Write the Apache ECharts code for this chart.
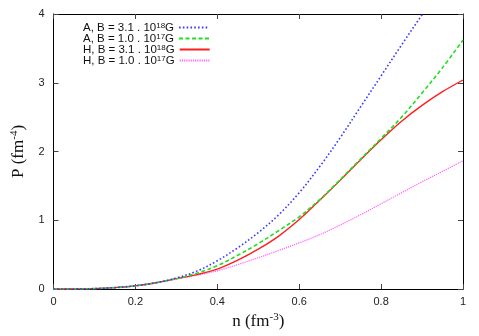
<!DOCTYPE html>
<html>
<head>
<meta charset="utf-8">
<script src="https://cdn.jsdelivr.net/npm/echarts@6/dist/echarts.min.js"></script>
<style>html,body{margin:0;padding:0;background:#fff}#c{width:479px;height:336px}</style>
</head>
<body>
<div id="c"></div>
<script>
var nValues = [0, 0.05, 0.1, 0.15, 0.2, 0.25, 0.3, 0.35, 0.4, 0.45, 0.5, 0.55, 0.6, 0.65, 0.7, 0.75, 0.8, 0.85, 0.9, 0.95, 1.0];
var pA_B18 = [0, 0.001, 0.006, 0.02, 0.048, 0.09, 0.16, 0.26, 0.41, 0.60, 0.82, 1.08, 1.40, 1.78, 2.20, 2.65, 3.10, 3.55, 3.99, 4.43, 4.87];
var pA_B17 = [0, 0.001, 0.006, 0.02, 0.046, 0.09, 0.15, 0.23, 0.34, 0.49, 0.66, 0.85, 1.05, 1.30, 1.59, 1.89, 2.19, 2.50, 2.85, 3.22, 3.62];
var pH_B18 = [0, 0.001, 0.006, 0.02, 0.046, 0.09, 0.15, 0.21, 0.29, 0.42, 0.58, 0.77, 1.01, 1.29, 1.58, 1.88, 2.17, 2.44, 2.67, 2.87, 3.04];
var pH_B17 = [0, 0.001, 0.006, 0.02, 0.046, 0.09, 0.145, 0.20, 0.265, 0.355, 0.455, 0.56, 0.67, 0.79, 0.93, 1.08, 1.24, 1.40, 1.56, 1.71, 1.865];
var seriesNames = ['A, B = 3.1 . 10{s|18}G', 'A, B = 1.0 . 10{s|17}G', 'H, B = 3.1 . 10{s|18}G', 'H, B = 1.0 . 10{s|17}G'];
var xTicks = [0, 0.2, 0.4, 0.6, 0.8, 1];
var yTicks = [0, 1, 2, 3, 4];

function pairs(ys) { return nValues.map(function (x, i) { return [x, ys[i]]; }); }

var styles = [
  { color: '#3a3aff', width: 1.6, type: [1.6, 2.2] },
  { color: '#22dd22', width: 1.6, type: [4, 2.5] },
  { color: '#ff1e1e', width: 1.4, type: 'solid' },
  { color: '#ff66ff', width: 1.3, type: [1.2, 1] }
];
var allData = [pA_B18, pA_B17, pH_B18, pH_B17];

var series = allData.map(function (d, i) {
  return {
    name: seriesNames[i],
    type: 'line',
    data: pairs(d),
    smooth: 0.35,
    symbol: 'none',
    clip: true,
    color: styles[i].color,
    lineStyle: { color: styles[i].color, width: styles[i].width, type: styles[i].type },
    z: 10 - i
  };
});

var legendTops = [21.5, 32.5, 43.5, 54.5];
var legends = seriesNames.map(function (nm, i) {
  return {
    show: true,
    orient: 'vertical',
    left: 83,
    top: legendTops[i],
    padding: 0,
    align: 'right',
    itemWidth: 30,
    itemHeight: 8,
    data: [nm],
    itemStyle: { opacity: 0 },
    lineStyle: { opacity: 1 },
    textStyle: {
      fontFamily: 'Liberation Sans, Arial, sans-serif', fontSize: 11.5, color: '#111', lineHeight: 11,
      rich: { s: { fontSize: 8, lineHeight: 7, verticalAlign: 'top', fontFamily: 'Liberation Sans, Arial, sans-serif', color: '#111' } }
    }
  };
});

var tickFont = { fontFamily: 'Liberation Sans, Arial, sans-serif', fontSize: 11, color: '#222' };
var titleRich = {
  a: { fontFamily: 'Liberation Serif, Times New Roman, serif', fontSize: 17, color: '#111', lineHeight: 20 },
  s: { fontFamily: 'Liberation Serif, Times New Roman, serif', fontSize: 11, color: '#111', lineHeight: 12, verticalAlign: 'top' }
};
var axisCommon = {
  axisLine: { show: true, onZero: false, lineStyle: { color: '#000', width: 1 } },
  axisTick: { show: true, inside: true, length: 5, lineStyle: { color: '#444' } },
  splitLine: { show: false }
};

var chart = echarts.init(document.getElementById('c'), null, { renderer: 'canvas' });
chart.setOption({
  animation: false,
  backgroundColor: '#fff',
  grid: { left: 53.5, right: 16, top: 14, bottom: 47, containLabel: false },
  legend: legends,
  xAxis: [
    Object.assign({
      type: 'value', min: 0, max: 1, interval: 0.2, position: 'bottom',
      name: '{a|n (fm}{s|-3}{a|)}', nameLocation: 'middle', nameGap: 17,
      nameTextStyle: { rich: titleRich },
      axisLabel: Object.assign({ margin: 7, formatter: function (v) { var r = Math.round(v * 10) / 10; return xTicks.indexOf(r) >= 0 ? String(r) : ''; } }, tickFont)
    }, axisCommon),
    Object.assign({
      type: 'value', min: 0, max: 1, interval: 0.2, position: 'top',
      axisLabel: { show: false }
    }, axisCommon)
  ],
  yAxis: [
    Object.assign({
      type: 'value', min: 0, max: 4, interval: 1, position: 'left',
      name: '{a|P (fm}{s|-4}{a|)}', nameLocation: 'middle', nameGap: 19, nameRotate: 90,
      nameTextStyle: { rich: titleRich },
      axisLabel: Object.assign({ margin: 9, formatter: function (v) { return yTicks.indexOf(v) >= 0 ? String(v) : ''; } }, tickFont)
    }, axisCommon),
    Object.assign({
      type: 'value', min: 0, max: 4, interval: 1, position: 'right',
      axisLabel: { show: false }
    }, axisCommon)
  ],
  series: series
});
</script>
</body>
</html>
